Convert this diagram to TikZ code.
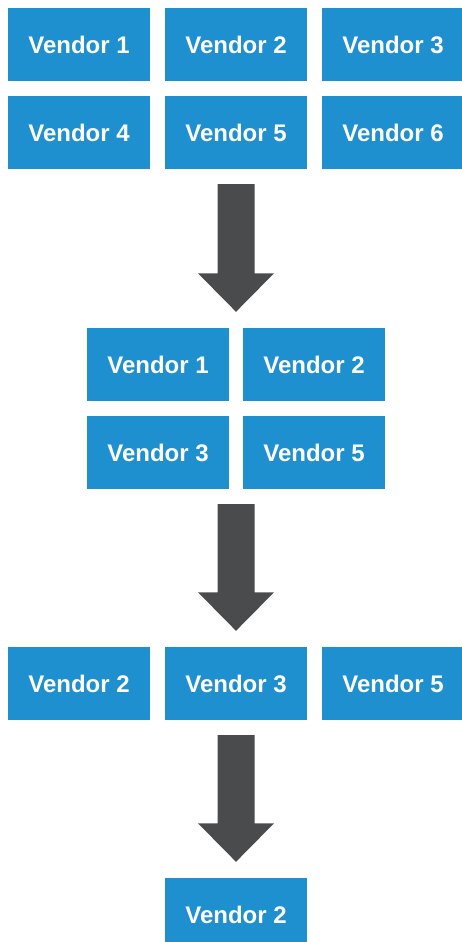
\documentclass[tikz,border=0pt]{standalone}
\usepackage{fontspec}
\setmainfont{Liberation Sans}
\usetikzlibrary{calc}
\definecolor{vblue}{HTML}{1E8FCF}
\definecolor{agray}{HTML}{4A4B4D}
\tikzset{
  vbox/.style={fill=vblue, draw=none, minimum width=142pt, minimum height=73pt, inner sep=0pt,
    text=white, font=\fontsize{24}{28}\selectfont\bfseries},
}
\newcommand\bigarrow[2]{%
  \fill[agray] ($(#1)+(-18.5pt,0)$) -- ($(#2)+(-18.5pt,38.5pt)$) -- ($(#2)+(-38pt,38.5pt)$) -- (#2)
    -- ($(#2)+(38pt,38.5pt)$) -- ($(#2)+(18.5pt,38.5pt)$) -- ($(#1)+(18.5pt,0)$) -- cycle;}
\begin{document}
\begin{tikzpicture}[x=1pt,y=-1pt]
\useasboundingbox (0,0) rectangle (461,942);
% stage 1
\node[vbox] (a1) at (79,44.5) {Vendor 1};
\node[vbox] (a2) at (236,44.5) {Vendor 2};
\node[vbox] (a3) at (393,44.5) {Vendor 3};
\node[vbox] (a4) at (79,132.5) {Vendor 4};
\node[vbox] (a5) at (236,132.5) {Vendor 5};
\node[vbox] (a6) at (393,132.5) {Vendor 6};
% stage 2
\node[vbox] (b1) at (158,364.5) {Vendor 1};
\node[vbox] (b2) at (314,364.5) {Vendor 2};
\node[vbox] (b3) at (158,452.5) {Vendor 3};
\node[vbox] (b4) at (314,452.5) {Vendor 5};
% stage 3
\node[vbox] (c1) at (79,683.5) {Vendor 2};
\node[vbox] (c2) at (236,683.5) {Vendor 3};
\node[vbox] (c3) at (393,683.5) {Vendor 5};
% stage 4
\node[vbox] (d1) at (236,914.5) {Vendor 2};
% arrows
\coordinate (s1) at ($(a5.south)+(0,-15pt)$);
\coordinate (e1) at ($(a5.south |- b1.north)+(0,16pt)$);
\coordinate (s2) at ($(a5.south |- b3.south)+(0,-15pt)$);
\coordinate (e2) at ($(c2.north)+(0,16pt)$);
\coordinate (s3) at ($(c2.south)+(0,-15pt)$);
\coordinate (e3) at ($(d1.north)+(0,16pt)$);
\bigarrow{s1}{e1}
\bigarrow{s2}{e2}
\bigarrow{s3}{e3}
\end{tikzpicture}
\end{document}
